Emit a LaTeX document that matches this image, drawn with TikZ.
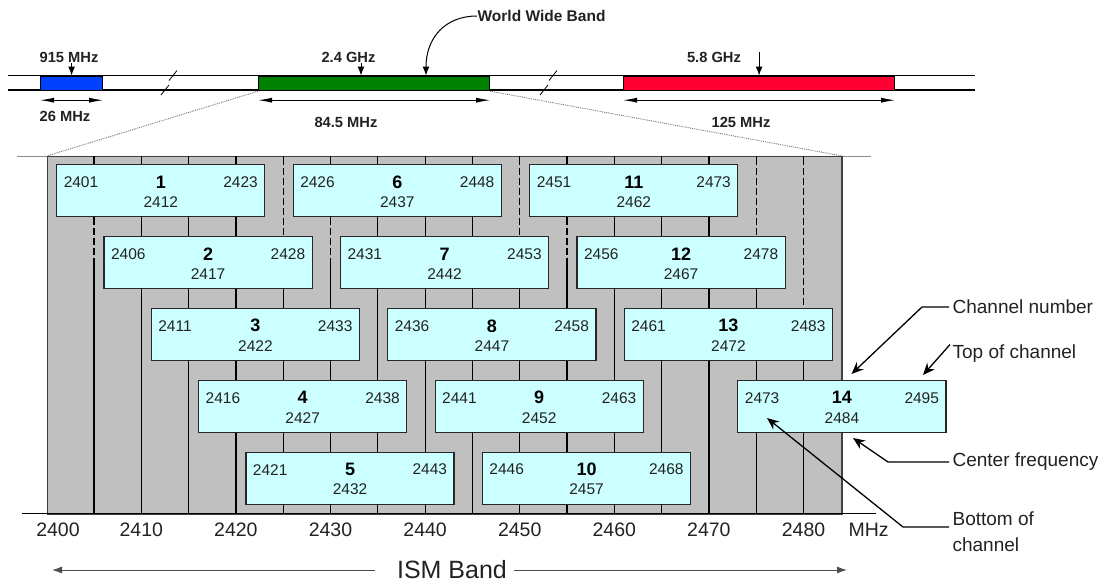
\documentclass[tikz,border=0pt]{standalone}
\usepackage{fontspec}
\setmainfont{Liberation Sans}
\usetikzlibrary{arrows.meta,calc}

\definecolor{bandblue}{RGB}{0,64,255}
\definecolor{bandgreen}{RGB}{0,128,0}
\definecolor{bandred}{RGB}{255,0,51}
\definecolor{panelgrey}{RGB}{192,192,192}
\definecolor{chancyan}{RGB}{204,255,255}
\definecolor{txtgrey}{RGB}{34,34,34}

\begin{document}
\begin{tikzpicture}[x=1pt, y=-1pt, line width=1.2pt,
  declare function={fx(\f)=46.7+9.46*(\f-2400);},
  band/.style={draw=black, line width=1.2pt, inner sep=0pt, minimum height=14.5pt, anchor=north west},
  chanbox/.style={draw=black!85, fill=chancyan, minimum width=208.1pt, minimum height=52pt, inner sep=0pt, anchor=north west},
  small/.style={inner sep=0pt, text=txtgrey, font=\fontsize{15.5}{18}\selectfont},
  chnum/.style={inner sep=0pt, text=black, font=\fontsize{18}{21}\selectfont\bfseries},
  bandlbl/.style={inner sep=0pt, text=txtgrey, font=\fontsize{14.7}{17}\selectfont\bfseries},
  axlbl/.style={inner sep=0pt, text=txtgrey, font=\fontsize{19.5}{22}\selectfont},
  annlbl/.style={inner sep=0pt, anchor=west, align=left, text=txtgrey, font=\fontsize{19}{26}\selectfont},
  bandspan/.style={{Latex[length=14pt,width=5pt]}-{Latex[length=14pt,width=5pt]}, line width=1pt},
  tickarrow/.style={-{Latex[length=9pt,width=7pt]}, line width=1pt},
  leader/.style={-{Stealth[length=12pt,width=10pt,inset=4pt]}, line width=1.3pt},
  ismarrow/.style={-{Latex[length=10pt,width=7pt]}, line width=1pt, draw=black!70},
]
  \useasboundingbox (0,0) rectangle (1109,584);

  % frequency strip
  \draw (8,75.5) -- (975,75.5);
  \draw (8,90) -- (975,90);
  \node[band, fill=bandblue, minimum width=62pt] (b915) at (40,75.5) {};
  \node[band, fill=bandgreen, minimum width=231pt] (b24) at (258,75.5) {};
  \node[band, fill=bandred, minimum width=271pt] (b58) at (623,75.5) {};

  % breaks in the strip
  \foreach \bx/\lx in {173/165, 553/544} {
    \draw[line width=0.8pt] (\bx-4,80.5) -- (\bx+4,70.5);
    \draw[line width=0.8pt] (\lx-4,95) -- (\lx+4,85);
  }

  % band centres
  \node[bandlbl] (l915) at (69,57) {915 MHz};
  \node[bandlbl] (l24) at (348.5,57) {2.4 GHz};
  \node[bandlbl] (l58) at (714,57.5) {5.8 GHz};
  \coordinate (f24) at (361,75.5);
  \draw[tickarrow] (l915.south -| b915.north) -- (b915.north);
  \draw[tickarrow] (l24.south -| f24) -- (f24);
  \draw[tickarrow] (l58.north -| b58.north) -- (b58.north);

  % world wide band
  \node[bandlbl, anchor=west, font=\fontsize{15.5}{18}\selectfont\bfseries] (lwwb) at (477,16) {World Wide Band};
  \coordinate (wwbtip) at (426,75.5);
  \draw[tickarrow] (lwwb.west) .. controls (445,16) and (426,38) .. (wwbtip);

  % band widths
  \draw[bandspan] ([yshift=-9pt]b915.south west) -- ([yshift=-9pt]b915.south east);
  \draw[bandspan] ([yshift=-9pt]b24.south west) -- ([yshift=-9pt]b24.south east);
  \draw[bandspan] ([yshift=-9pt]b58.south west) -- ([yshift=-9pt]b58.south east);
  \node[bandlbl] (w915) at (65,116.5) {26 MHz};
  \node[bandlbl] (w24) at (346,122) {84.5 MHz};
  \node[bandlbl] (w58) at (741,122) {125 MHz};

  % channel panel
  \draw[black!45, line width=0.9pt] (17,156) -- (871,156);
  \node[draw=black!75, fill=panelgrey, minimum width=794.6pt, minimum height=357.3pt, inner sep=0pt, anchor=north west] (panel) at ({fx(2400)},156) {};
  \draw[densely dotted, black!55, line width=0.9pt] (b24.south west) -- (panel.north west);
  \draw[densely dotted, black!55, line width=0.9pt] (b24.south east) -- (panel.north east);

  % 5 MHz grid
  \foreach \f in {2405,2410,...,2480}
    \draw ({fx(\f)},156) -- ({fx(\f)},513.3);
  \foreach \f/\ya/\yb in {2405/216/262, 2430/216/262, 2455/216/262,
                          2425/156/236, 2450/156/236, 2475/156/236, 2480/156/308} {
    \draw[panelgrey, line width=3pt] ({fx(\f)},\ya+1.5) -- ({fx(\f)},\yb);
    \draw[dash pattern=on 7pt off 3pt] ({fx(\f)},\ya+1.5) -- ({fx(\f)},\yb);
  }

  % channels
  \foreach \n in {1,...,14} {
    \pgfmathtruncatemacro\chlo{\n==14 ? 2473 : 2396+5*\n}
    \pgfmathtruncatemacro\chrow{mod(\n-1,5)}
    \pgfmathtruncatemacro\chcf{\chlo+11}
    \pgfmathtruncatemacro\chhi{\chlo+22}
    \node[chanbox] (ch\n) at ({fx(\chlo)},{164+71.9*\chrow}) {};
    \node[small, anchor=west] (lo\n) at ($(ch\n.north west)+(7,18)$) {\chlo};
    \node[small, anchor=east] (hi\n) at ($(ch\n.north east)+(-7,18)$) {\chhi};
    \node[chnum] (num\n) at ($(ch\n.north)+(0,18)$) {\n};
    \node[small] (cf\n) at ($(ch\n.north)+(0,38)$) {\chcf};
  }

  % frequency axis
  \draw (22,513.3) -- (876,513.3);
  \node[axlbl] (ax2400) at (58,530) {2400};
  \foreach \f in {2410,2420,...,2480}
    \node[axlbl] (ax\f) at ({fx(\f)},530) {\f};
  \node[axlbl, anchor=west] (axunit) at (848,530) {MHz};

  % ISM band
  \node[inner sep=0pt, text=txtgrey, font=\fontsize{25}{29}\selectfont] (ism) at (452,570) {ISM Band};
  \coordinate (ismL) at (52,570);
  \coordinate (ismR) at (847,570);
  \draw[ismarrow] ([xshift=-22pt]ism.west) -- (ismL);
  \draw[ismarrow] ([xshift=7pt]ism.east) -- (ismR);

  % legend for channel 14
  \node[annlbl] (lblnum) at (952,307) {Channel number};
  \node[annlbl] (lbltop) at (952,354) {Top of channel};
  \node[annlbl] (lblctr) at (952,462) {Center frequency};
  \node[annlbl] (lblbot) at (952,532) {Bottom of\\channel};
  \coordinate (numbend) at (922,307);
  \coordinate (numtip) at (851.5,374);
  \coordinate (toptip) at (923,375);
  \coordinate (ctrbend) at (888,462);
  \coordinate (ctrtip) at (853,438);
  \coordinate (botbend) at (903,527);
  \coordinate (bottip) at (767,418);
  \draw[leader] ([xshift=-3pt]lblnum.west) -- (numbend) -- (numtip);
  \draw[leader] ([xshift=-2pt]lbltop.north west) -- (toptip);
  \draw[leader] ([xshift=-3pt]lblctr.west) -- (ctrbend) -- (ctrtip);
  \draw[leader] ([xshift=-3pt,yshift=5pt]lblbot.west) -- (botbend) -- (bottip);
\end{tikzpicture}
\end{document}
